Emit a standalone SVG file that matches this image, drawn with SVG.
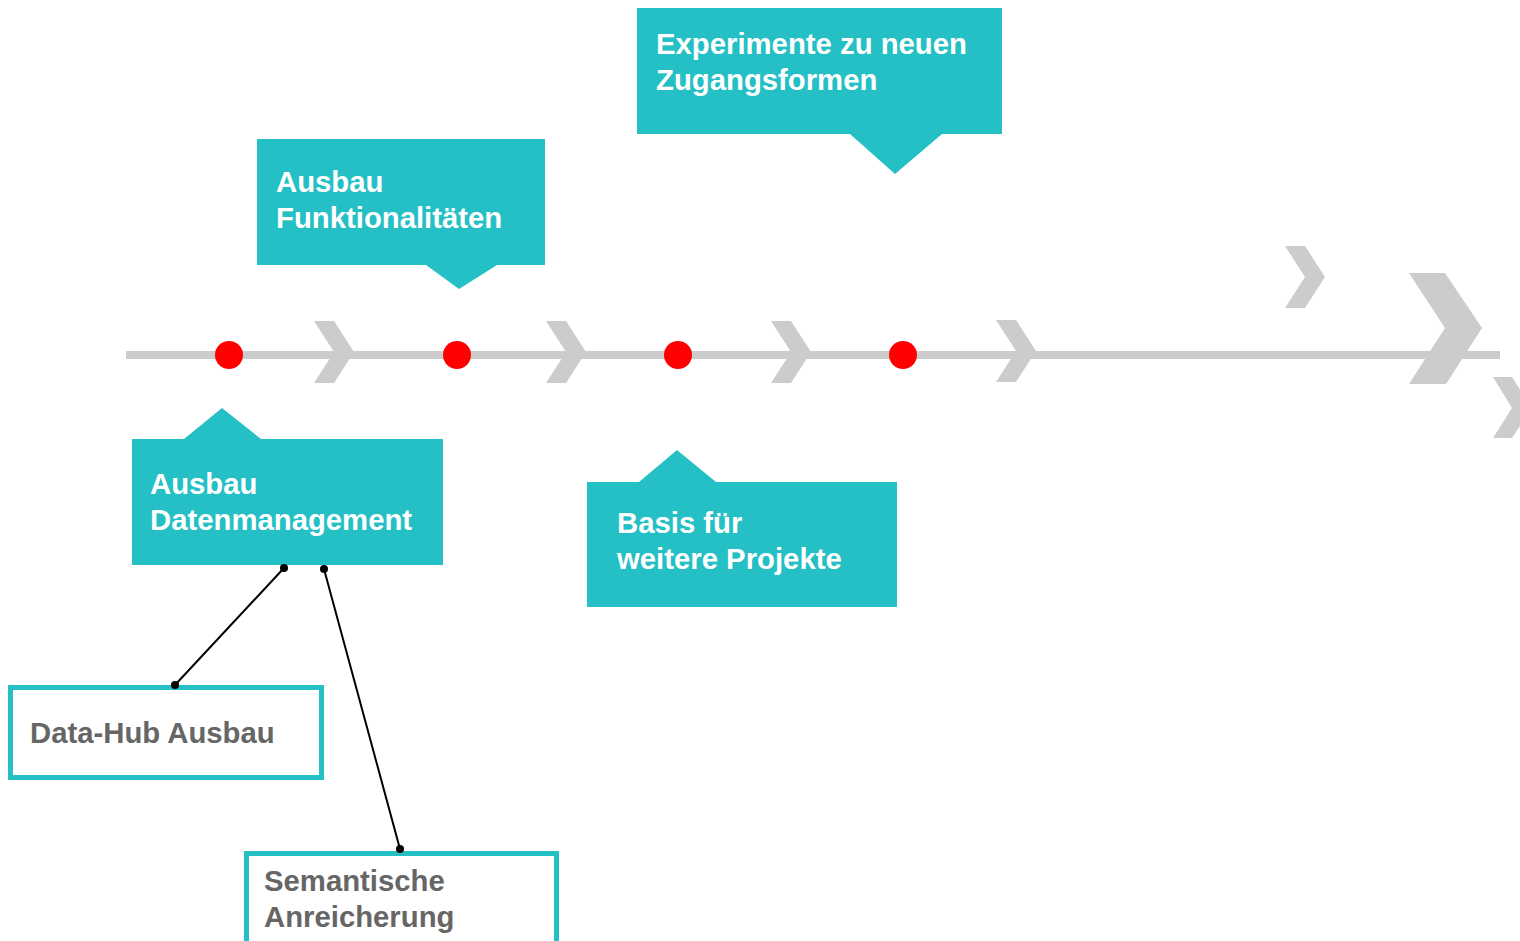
<svg xmlns="http://www.w3.org/2000/svg" width="1520" height="941" viewBox="0 0 1520 941">
<defs>
<style>
.chev{fill:#cccccc}
.call{fill:#24c0c5}
.ct{font-family:"Liberation Sans",Arial,sans-serif;font-weight:bold;font-size:29.3px;fill:#ffffff}
.bt{font-family:"Liberation Sans",Arial,sans-serif;font-weight:bold;font-size:29.3px;fill:#666666}
.box{fill:#ffffff;stroke:#24c0c5;stroke-width:5}
.dot{fill:#ff0000}
.conn{stroke:#000000;stroke-width:2;fill:none}
.end{fill:#000000}
</style>
<path id="chv" d="M0,0 H20 L40,31 L20,62 H0 L20,31 Z"/>
</defs>
<g id="timeline">
<rect x="126" y="351" width="1374" height="8" fill="#cccccc"/>
<use href="#chv" class="chev" x="314" y="321"/>
<use href="#chv" class="chev" x="546" y="321"/>
<use href="#chv" class="chev" x="771" y="321"/>
<use href="#chv" class="chev" x="996" y="320"/>
<polygon class="chev" points="1285,246 1305,246 1325,277 1305,308 1285,308 1305,277"/>
<polygon class="chev" points="1409,273 1445,273 1482,328 1446,384 1409,384 1445,328"/>
<polygon class="chev" points="1493,377 1512,377 1532,408 1512,438 1493,438 1512,408"/>
<circle class="dot" cx="229" cy="355" r="14"/>
<circle class="dot" cx="457" cy="355" r="14"/>
<circle class="dot" cx="678" cy="355" r="14"/>
<circle class="dot" cx="903" cy="355" r="14"/>
</g>
<g id="callout-datenmanagement">
<path class="call" d="M132,439 H184 L222,408 L261,439 H443 V565 H132 Z"/>
<text class="ct" x="150" y="494">Ausbau</text>
<text class="ct" x="150" y="530">Datenmanagement</text>
</g>
<g id="callout-funktionalitaeten">
<path class="call" d="M257,139 H545 V265 H497 L459,289 L426,265 H257 Z"/>
<text class="ct" x="276" y="192">Ausbau</text>
<text class="ct" x="276" y="228">Funktionalitäten</text>
</g>
<g id="callout-basis">
<path class="call" d="M587,482 H639 L677,450 L716,482 H897 V607 H587 Z"/>
<text class="ct" x="617" y="533">Basis für</text>
<text class="ct" x="617" y="569">weitere Projekte</text>
</g>
<g id="callout-experimente">
<path class="call" d="M637,8 H1002 V134 H942 L895,174 L850,134 H637 Z"/>
<text class="ct" x="656" y="54">Experimente zu neuen</text>
<text class="ct" x="656" y="90">Zugangsformen</text>
</g>
<g id="box-datahub">
<rect class="box" x="10.5" y="687.5" width="311" height="90"/>
<text class="bt" x="30" y="743">Data-Hub Ausbau</text>
</g>
<g id="box-semantisch">
<rect class="box" x="246.5" y="853.5" width="310" height="100"/>
<text class="bt" x="264" y="891">Semantische</text>
<text class="bt" x="264" y="927">Anreicherung</text>
</g>
<g id="connectors">
<line class="conn" x1="284" y1="568" x2="175" y2="685"/>
<line class="conn" x1="324" y1="569" x2="400" y2="849"/>
<circle class="end" cx="284" cy="568" r="4"/>
<circle class="end" cx="175" cy="685" r="4"/>
<circle class="end" cx="324" cy="569" r="4"/>
<circle class="end" cx="400" cy="849" r="4"/>
</g>
</svg>
